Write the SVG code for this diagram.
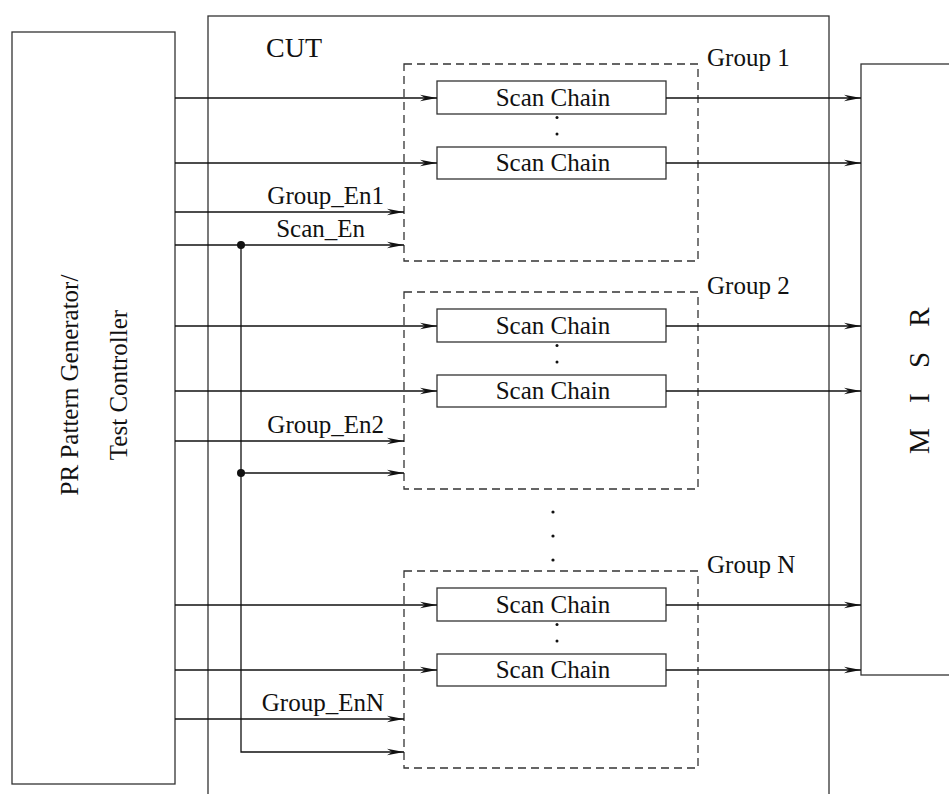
<svg xmlns="http://www.w3.org/2000/svg" width="949" height="794" viewBox="0 0 949 794">
<style>
.box{fill:none;stroke:#333;stroke-width:1.3}
.grp{fill:none;stroke:#333;stroke-width:1.3;stroke-dasharray:8 5}
.wire{fill:none;stroke:#111;stroke-width:1.3}
.arr{marker-end:url(#ah)}
text{font-family:"Liberation Serif","Times New Roman",serif;fill:#111;font-size:25px}
.sc{text-anchor:middle}
</style>
<defs>
<marker id="ah" viewBox="-17 -4 18 8" refX="0" refY="0" markerWidth="18" markerHeight="8" markerUnits="userSpaceOnUse" orient="auto">
<path d="M0,0 L-17,-3.2 L-12,0 L-17,3.2 Z" fill="#111"/>
</marker>
</defs>
<rect width="949" height="794" fill="#fff"/>
<g id="pattern-generator">
<rect class="box" x="12" y="32" width="163" height="752"/>
<text transform="translate(78,385) rotate(-90)" text-anchor="middle">PR Pattern Generator/</text>
<text transform="translate(127,385) rotate(-90)" text-anchor="middle">Test Controller</text>
</g>
<g id="cut">
<rect class="box" x="208" y="16" width="621" height="820"/>
<text x="266" y="57" style="font-size:28px">CUT</text>
</g>
<g id="misr">
<rect class="box" x="861" y="64" width="120" height="611"/>
<text transform="translate(929,454) rotate(-90)" style="font-size:29px;letter-spacing:9px">M I S R</text>
</g>
<g id="group1">
<rect class="grp" x="404" y="64" width="294" height="197"/>
<text x="707" y="66">Group 1</text>
<g id="g1-chain1"><rect class="box" x="437" y="81" width="229" height="33"/><text class="sc" x="553" y="106">Scan Chain</text></g>
<g id="g1-chain2"><rect class="box" x="437" y="147" width="229" height="32"/><text class="sc" x="553" y="171">Scan Chain</text></g>
<circle cx="557" cy="117.5" r="1.5" fill="#111"/><circle cx="557" cy="134" r="1.5" fill="#111"/>
</g>
<g id="group2">
<rect class="grp" x="404" y="292" width="294" height="197"/>
<text x="707" y="294">Group 2</text>
<g id="g2-chain1"><rect class="box" x="437" y="309" width="229" height="33"/><text class="sc" x="553" y="334">Scan Chain</text></g>
<g id="g2-chain2"><rect class="box" x="437" y="375" width="229" height="32"/><text class="sc" x="553" y="399">Scan Chain</text></g>
<circle cx="557" cy="345.5" r="1.5" fill="#111"/><circle cx="557" cy="362" r="1.5" fill="#111"/>
</g>
<g id="ellipsis">
<circle cx="553" cy="512" r="1.6" fill="#111"/><circle cx="553" cy="536" r="1.6" fill="#111"/><circle cx="553" cy="560" r="1.6" fill="#111"/>
</g>
<g id="groupN">
<rect class="grp" x="404" y="571" width="294" height="197"/>
<text x="707" y="573">Group N</text>
<g id="gN-chain1"><rect class="box" x="437" y="588" width="229" height="33"/><text class="sc" x="553" y="613">Scan Chain</text></g>
<g id="gN-chain2"><rect class="box" x="437" y="654" width="229" height="32"/><text class="sc" x="553" y="678">Scan Chain</text></g>
<circle cx="557" cy="624.5" r="1.5" fill="#111"/><circle cx="557" cy="641" r="1.5" fill="#111"/>
</g>
<g id="connectors">
<path class="wire arr" d="M175,98 H437"/>
<path class="wire arr" d="M175,163 H437"/>
<path class="wire arr" d="M175,212 H404"/>
<path class="wire arr" d="M175,245 H404"/>
<path class="wire arr" d="M175,326 H437"/>
<path class="wire arr" d="M175,391 H437"/>
<path class="wire arr" d="M175,441 H404"/>
<path class="wire arr" d="M241,473 H404"/>
<path class="wire arr" d="M175,605 H437"/>
<path class="wire arr" d="M175,670 H437"/>
<path class="wire arr" d="M175,719 H404"/>
<path class="wire arr" d="M241,245 V752 H404"/>
<circle cx="241" cy="245" r="4" fill="#111"/>
<circle cx="241" cy="473" r="4" fill="#111"/>
<path class="wire arr" d="M666,98 H861"/>
<path class="wire arr" d="M666,163 H861"/>
<path class="wire arr" d="M666,326 H861"/>
<path class="wire arr" d="M666,391 H861"/>
<path class="wire arr" d="M666,605 H861"/>
<path class="wire arr" d="M666,670 H861"/>
<text x="384" y="204" text-anchor="end">Group_En1</text>
<text x="365" y="237" text-anchor="end">Scan_En</text>
<text x="384" y="433" text-anchor="end">Group_En2</text>
<text x="384" y="711" text-anchor="end">Group_EnN</text>
</g>
</svg>
